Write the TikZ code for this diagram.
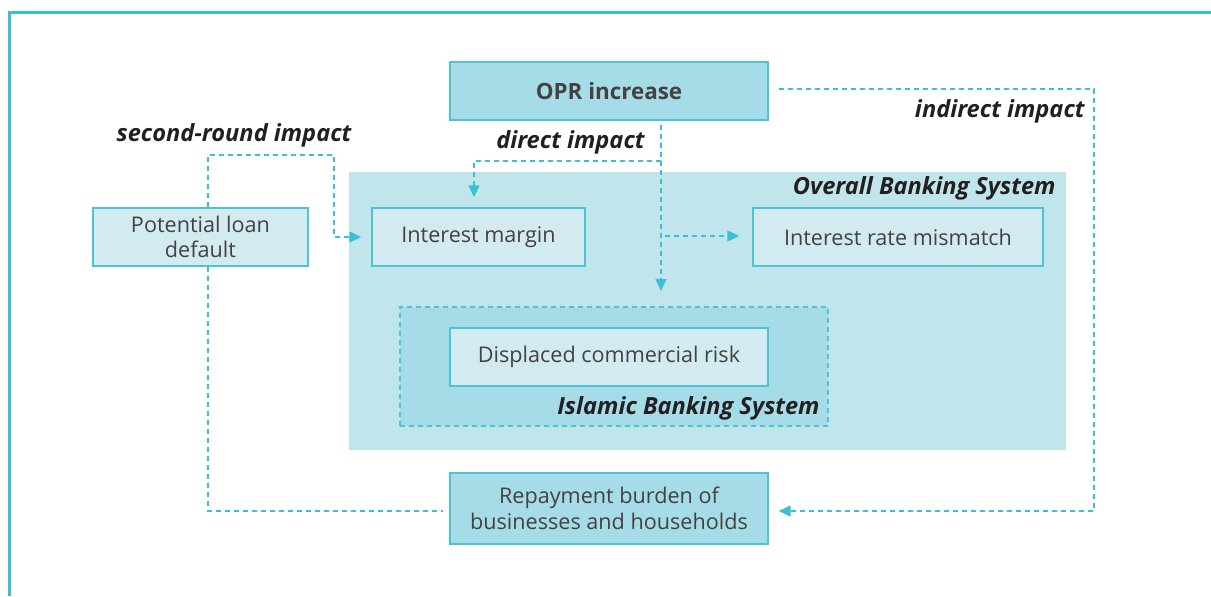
\documentclass[tikz,border=0pt]{standalone}
\usepackage{fontspec}
\setmainfont{Open Sans}
\usetikzlibrary{arrows.meta, positioning}
\definecolor{rim}{HTML}{3CBFD6}
\definecolor{boxline}{HTML}{4EC3D8}
\definecolor{deepfill}{HTML}{A6DCE7}
\definecolor{zonefill}{HTML}{C0E6EC}
\definecolor{palefill}{HTML}{D2EBF1}
\definecolor{ink}{HTML}{231F20}

\begin{document}
\begin{tikzpicture}[x=0.5pt, y=-0.5pt,
    every node/.style={inner sep=0pt, text=ink!85},
    box/.style={draw=boxline, line width=0.7pt, fill=palefill,
        minimum height=29pt, align=center,
        font=\fontsize{10.8}{12.8}\selectfont},
    keybox/.style={box, fill=deepfill},
    zone/.style={fill=zonefill, minimum width=358.5pt, minimum height=139pt},
    subzone/.style={draw=boxline, dashed, dash pattern=on 2.5pt off 2pt,
        line width=0.6pt, fill=deepfill, minimum width=214pt,
        minimum height=59.5pt},
    tag/.style={font=\fontsize{11.8}{14}\selectfont\bfseries\itshape, text=ink},
    link/.style={draw=rim, line width=0.7pt, dash pattern=on 2.5pt off 2pt,
        -{Triangle[length=6pt, width=5.5pt]}},
    plainlink/.style={draw=rim, line width=0.7pt, dash pattern=on 2.5pt off 2pt}]
    \useasboundingbox (0,0) rectangle (1211,596);

    % frame
    \draw[rim, line width=1.5pt] (9.5,596) -- (9.5,12.5) -- (1211,12.5);

    % banking system areas
    \node[zone] (overall) at (707.5,311) {};
    \node[tag, anchor=base east] (overalltag) at (1056,194) {Overall Banking System};
    \node[subzone] (islamic) at (614,366.5) {};
    \node[tag, anchor=base east] (islamictag) at (820,414) {Islamic Banking System};

    % boxes
    \node[keybox, minimum width=159pt, font=\fontsize{11.2}{13}\selectfont\bfseries]
        (opr) at (609,91) {OPR increase};
    \node[box, minimum width=106.5pt] (margin) at (478.5,237) {Interest margin};
    \node[box, minimum width=145pt] (mismatch) at (898,237) {Interest rate mismatch};
    \node[box, minimum width=107.5pt] (loan) at (200.5,237) {Potential loan\\default};
    \node[box, minimum width=159pt] (displaced) at (609,357) {Displaced commercial risk};
    \node[keybox, minimum width=159pt, minimum height=35.5pt]
        (repay) at (609,508.5) {Repayment burden of\\businesses and households};

    % impact labels
    \node[tag, anchor=base] (secondtag) at (234,141) {second-round impact};
    \node[tag, anchor=base east] (directtag) at (645,148) {direct impact};
    \node[tag, anchor=base east] (indirecttag) at (1085,117) {indirect impact};

    % direct impact
    \coordinate (dtop) at (661,125);
    \coordinate (dfork) at (661,161);
    \coordinate (dside) at (665,236);
    \coordinate (dend) at (661,291);
    \draw[link] (dtop) -- (dend);
    \draw[link, shorten >=5pt] (dfork) -| ([xshift=-2.25pt]margin.north);
    \draw[link, shorten >=6.5pt] (dside) -- (mismatch.west |- dside);

    % indirect impact
    \coordinate (iright) at (1094,89);
    \coordinate (ibottom) at (1094,511);
    \draw[link, shorten <=5pt, shorten >=5pt]
        (opr.east |- iright) -- (iright) -- (ibottom) -- (repay.east |- ibottom);

    % second-round impact
    \coordinate (sturn) at (334,155);
    \draw[plainlink, shorten >=3pt] ([xshift=3.75pt]loan.south) |- (repay.west |- ibottom);
    \draw[link, shorten >=5pt] ([xshift=3.75pt]loan.north) |- (sturn) |- (margin.west);

\end{tikzpicture}
\end{document}
